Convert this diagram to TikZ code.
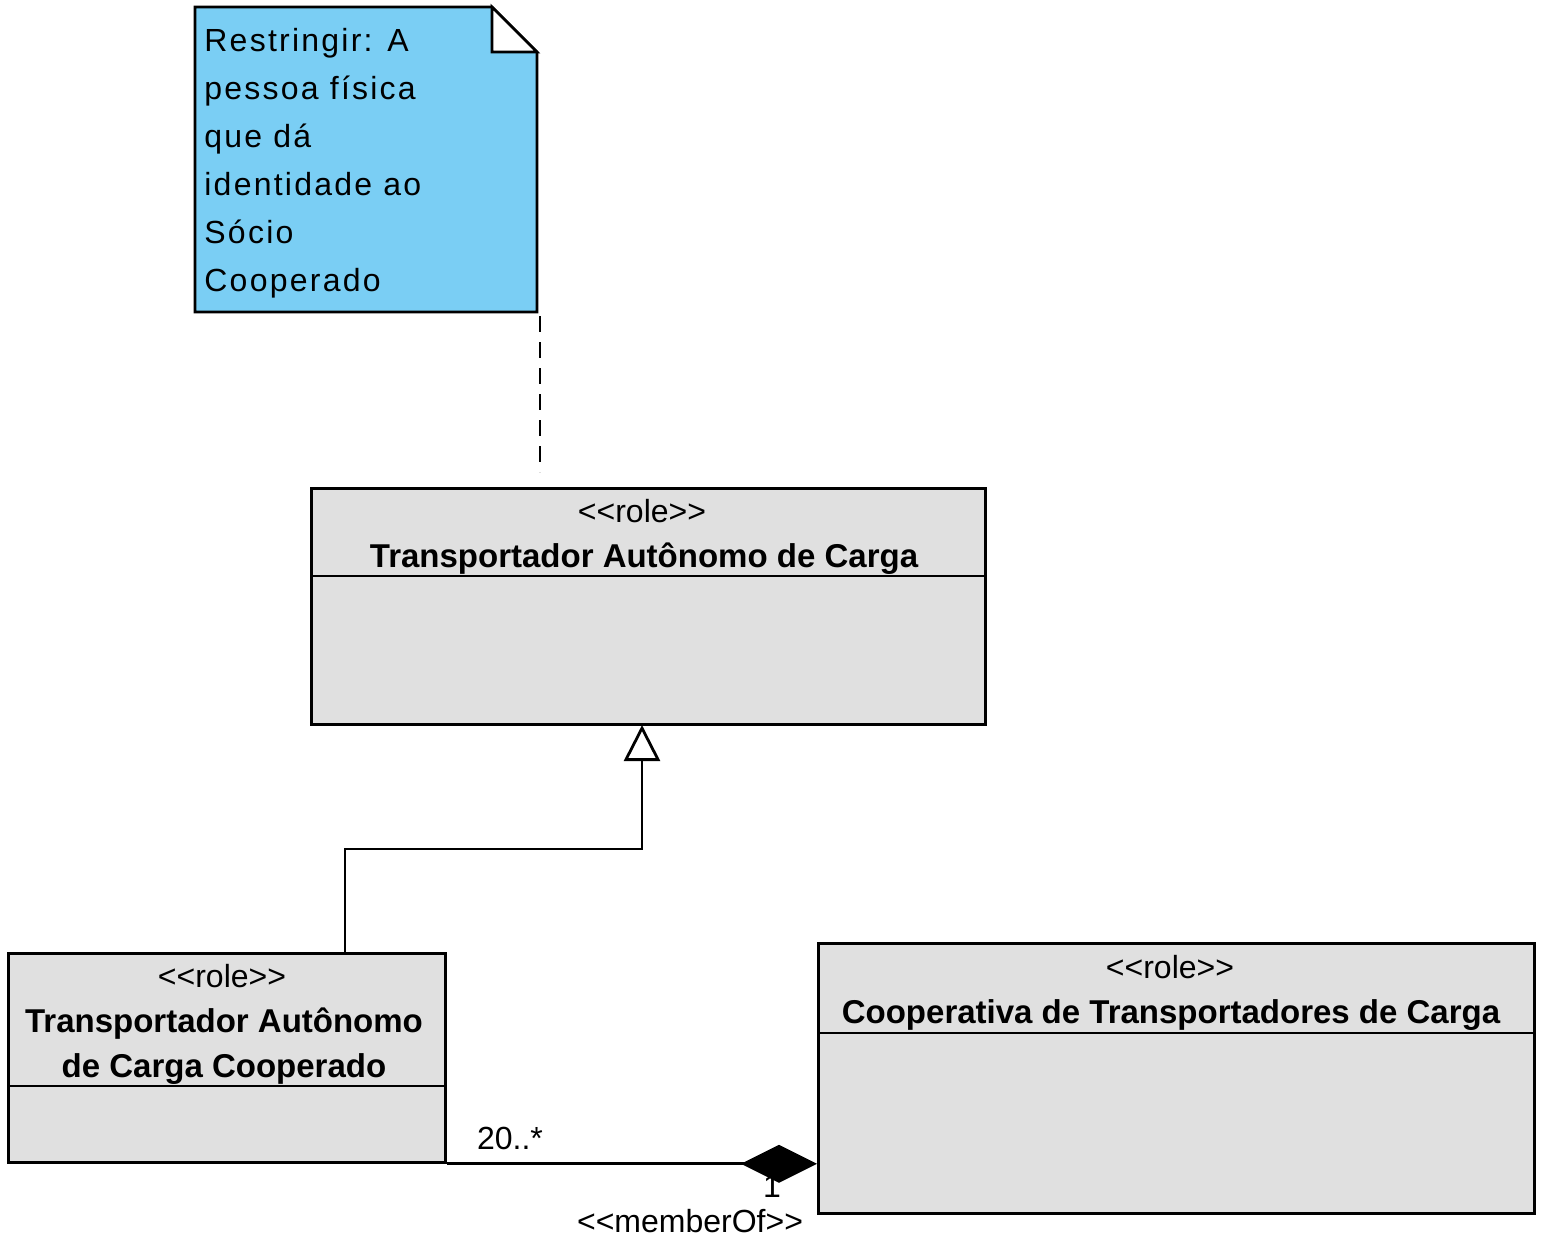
\documentclass[tikz,border=0pt]{standalone}
\usepackage{fontspec}
\setmainfont{Liberation Sans}[Ligatures=TeXOff]
\newfontfamily\notefont[LetterSpace=7]{Liberation Sans}
\usetikzlibrary{arrows.meta,calc}
\definecolor{noteblue}{RGB}{122,206,244}
\definecolor{rolegray}{RGB}{224,224,224}
\tikzstyle{umlclass} = [draw, fill=rolegray, anchor=north west, inner sep=0pt]
\tikzstyle{rolename} = [font=\fontsize{16.5}{22.5}\selectfont\bfseries, align=center]

\begin{document}
\begin{tikzpicture}[x=0.5pt, y=-0.5pt, line width=1.4pt,
  every node/.style={inner sep=0pt, font=\fontsize{16}{20}\selectfont}]
  \useasboundingbox (0,0) rectangle (1545,1257);

  % note
  \draw[fill=noteblue] (195,7) -- (492,7) -- (537,52) -- (537,312) -- (195,312) -- cycle;
  \draw[fill=white] (492,7) -- (537,52) -- (492,52) -- cycle;
  \node[anchor=north west, align=left, font=\notefont\fontsize{16}{24}\selectfont] (notetext) at (203,27)
    {Restringir: A\\pessoa física\\que dá\\identidade ao\\Sócio\\Cooperado};
  \coordinate (notelink) at (540,316);
  \coordinate (taclink) at (540,472);
  \draw[line width=1.3pt, dash pattern=on 8pt off 5pt] (notelink) -- (taclink);

  % classes
  \node[umlclass, minimum width=337pt, minimum height=118pt] (tac) at (310,487) {};
  \draw ($(tac.north west)+(0,89)$) -- ($(tac.north east)+(0,89)$);
  \node (tacrole) at (642,511) {<<role>>};
  \node[rolename] (tacname) at (644,559) {Transportador Autônomo de Carga};

  \node[umlclass, minimum width=218.5pt, minimum height=104.5pt] (tacc) at (7,952) {};
  \draw ($(tacc.north west)+(0,134)$) -- ($(tacc.north east)+(0,134)$);
  \node (taccrole) at (222,976) {<<role>>};
  \node[rolename] (taccname) at (224,1046) {Transportador Autônomo\\de Carga Cooperado};

  \node[umlclass, minimum width=358pt, minimum height=135pt] (ctc) at (817,942) {};
  \draw ($(ctc.north west)+(0,91)$) -- ($(ctc.north east)+(0,91)$);
  \node (ctcrole) at (1170,967) {<<role>>};
  \node[rolename] (ctcname) at (1171,1015) {Cooperativa de Transportadores de Carga};

  % generalization
  \coordinate (genstart) at (345,952);
  \coordinate (genbend) at (345,849);
  \coordinate (gentip) at (642,725);
  \draw[-{Triangle[open, length=18pt, width=18pt]}] (genstart) -- (genbend) -| (gentip);

  % memberOf
  \node (multmany) at (510,1138) {20..*};
  \node (multone) at (772,1186) {1};
  \node (memberof) at (690,1221) {<<memberOf>>};
  \draw[-{Diamond[length=38pt, width=19pt]}] (tacc.south east) -- (tacc.south east -| ctc.west);
\end{tikzpicture}
\end{document}
